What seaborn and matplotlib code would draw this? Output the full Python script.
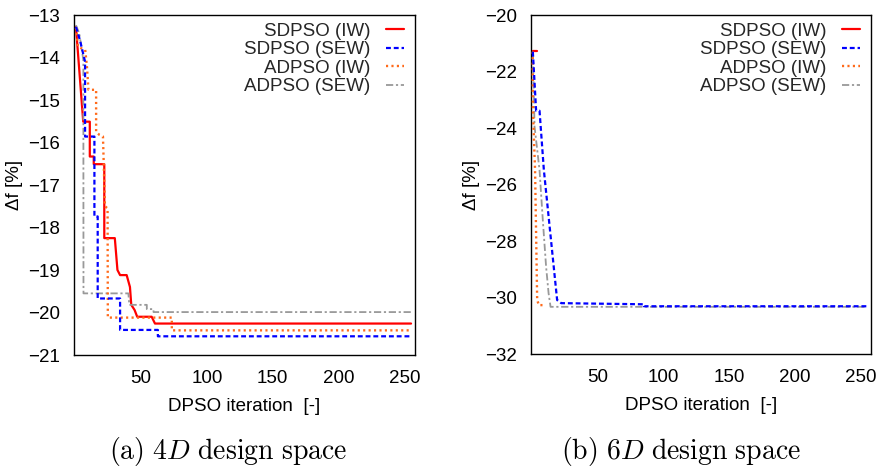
import matplotlib
matplotlib.use("Agg")
import matplotlib.pyplot as plt
import seaborn as sns
import pandas as pd

sns.set_theme(style="white")
plt.rcParams['font.family'] = ['Liberation Sans', 'DejaVu Sans']
plt.rcParams['mathtext.fontset'] = 'cm'

labels = ["SDPSO (IW)", "SDPSO (SEW)", "ADPSO (IW)", "ADPSO (SEW)"]

# ---- 4D design space (iteration, delta f %) ----
d4_sdpso_iw_x = [0.5, 6, 11, 11, 14, 14, 22, 22, 30, 32, 34, 39, 41.5, 42.5, 45, 47, 58, 60.5, 255]
d4_sdpso_iw_y = [-13.28, -15.51, -15.51, -16.33, -16.33, -16.51, -16.51, -18.25, -18.25, -19.0, -19.12, -19.12,
                 -19.4, -19.82, -19.94, -20.1, -20.1, -20.26, -20.26]
d4_sdpso_sew_x = [0.5, 3.6, 7.4, 7.4, 14.5, 14.5, 17, 17, 34, 34, 62.7, 62.7, 255]
d4_sdpso_sew_y = [-13.28, -13.6, -14.1, -15.86, -15.86, -17.74, -17.74, -19.67, -19.67, -20.41, -20.41, -20.56, -20.56]
d4_adpso_iw_x = [0.5, 2, 7.5, 8.8, 10, 15.8, 15.8, 18.3, 21, 22.5, 24.5, 24.7, 73.3, 73.3, 255]
d4_adpso_iw_y = [-13.3, -13.75, -13.82, -14.2, -14.76, -14.76, -15.75, -15.82, -15.86, -17.5, -17.55, -20.12,
                 -20.12, -20.42, -20.42]
d4_adpso_sew_x = [0.5, 3, 6.1, 6.2, 40.3, 41, 54.3, 54.3, 59.4, 59.4, 255]
d4_adpso_sew_y = [-13.24, -13.43, -14.06, -19.55, -19.55, -19.82, -19.82, -19.92, -19.92, -19.99, -19.99]

# ---- 6D design space ----
d6_sdpso_iw_x = [0.5, 3.7]
d6_sdpso_iw_y = [-21.27, -21.27]
d6_sdpso_sew_x = [0.4, 2.9, 5.5, 8.8, 18.9, 22, 85, 85, 255]
d6_sdpso_sew_y = [-21.3, -23.39, -23.39, -25.49, -30.09, -30.2, -30.24, -30.31, -30.31]
d6_adpso_iw_x = [0.3, 0.5, 2.1, 3.7, 5, 8]
d6_adpso_iw_y = [-21.3, -23.4, -25.49, -30.09, -30.27, -30.27]
d6_adpso_sew_x = [0.5, 1.7, 5.5, 8, 10.5, 12.4, 13.9, 255]
d6_adpso_sew_y = [-21.3, -23.95, -25.49, -27.26, -28.91, -29.85, -30.33, -30.33]

colors = ["#ff0000", "#0000ff", "#ff6a1a", "#999999"]
styles = [dict(linestyle='-', linewidth=1.6),
          dict(linestyle=(0, (2.2, 1.3)), linewidth=1.6),
          dict(linestyle=(0, (0.9, 1.4)), linewidth=1.7),
          dict(linestyle=(0, (4, 1.5, 1.2, 1.5)), linewidth=1.3)]
zorders = [2, 4, 3, 2.5]

fig = plt.figure(figsize=(8.78, 4.69), dpi=100)
ax1 = fig.add_axes([74/878, 1 - 355/469, 341/878, 340/469])
ax2 = fig.add_axes([531/878, 1 - 354/469, 340/878, 339/469])

def draw(ax, series):
    for i, (xs, ys) in enumerate(series):
        df = pd.DataFrame({"it": xs, "df": ys})
        sns.lineplot(data=df, x="it", y="df", ax=ax, sort=False, estimator=None,
                     color=colors[i], label=labels[i], zorder=zorders[i], **styles[i])

draw(ax1, [(d4_sdpso_iw_x, d4_sdpso_iw_y), (d4_sdpso_sew_x, d4_sdpso_sew_y),
           (d4_adpso_iw_x, d4_adpso_iw_y), (d4_adpso_sew_x, d4_adpso_sew_y)])
draw(ax2, [(d6_sdpso_iw_x, d6_sdpso_iw_y), (d6_sdpso_sew_x, d6_sdpso_sew_y),
           (d6_adpso_iw_x, d6_adpso_iw_y), (d6_adpso_sew_x, d6_adpso_sew_y)])

fs = 13.5
ax1.set_xlim(-1, 258)
ax1.set_ylim(-21, -13)
ax1.set_yticks(list(range(-21, -12)))
ax2.set_xlim(-1, 258)
ax2.set_ylim(-32, -20)
ax2.set_yticks(list(range(-32, -19, 2)))
for ax in (ax1, ax2):
    ax.set_xticks([50, 100, 150, 200, 250])
    ax.tick_params(length=0, labelsize=fs, colors='black')
    ax.tick_params(axis='y', pad=10)
    ax.tick_params(axis='x', pad=11)
    for s in ax.spines.values():
        s.set_color('black')
        s.set_linewidth(1.0)
    ax.set_xlabel("DPSO iteration  [-]", fontsize=fs, labelpad=8, color='black')
    ax.set_ylabel("Δf [%]", fontsize=fs, labelpad=4, color='black')
    ax.grid(False)
    ax.legend(loc='upper right', bbox_to_anchor=(0.968, 0.978), frameon=False, markerfirst=False,
              fontsize=fs, labelspacing=0.08, handlelength=0.95, handletextpad=0.85,
              borderpad=0, borderaxespad=0)

fig.text(228/878, 1 - 451/469, r"$\mathrm{(a)\ 4}D\mathrm{\ design\ space}$", fontsize=20,
         ha='center', va='center', color='black')
fig.text(681/878, 1 - 451/469, r"$\mathrm{(b)\ 6}D\mathrm{\ design\ space}$", fontsize=20,
         ha='center', va='center', color='black')

fig.savefig("out.png", dpi=100)
